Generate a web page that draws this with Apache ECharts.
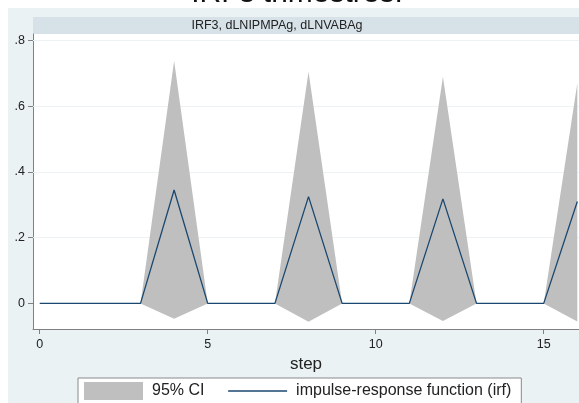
<!DOCTYPE html>
<html>
<head>
<meta charset="utf-8">
<script src="https://cdn.jsdelivr.net/npm/echarts@6/dist/echarts.min.js"></script>
<style>
html,body{margin:0;padding:0;background:#fff;}
#c{width:579px;height:403px;}
</style>
</head>
<body>
<div id="c"></div>
<script>
var steps = [0,1,2,3,4,5,6,7,8,9,10,11,12,13,14,15,16];
var irf   = [0,0,0,0,0.345,0,0,0,0.325,0,0,0,0.318,0,0,0,0.31];
var lower = [0,0,0,0,-0.047,0,0,0,-0.056,0,0,0,-0.054,0,0,0,-0.055];
var upper = [0,0,0,0,0.738,0,0,0,0.705,0,0,0,0.69,0,0,0,0.67];
var xTicks = [0,5,10,15];
var yTicks = [0,0.2,0.4,0.6,0.8];
var panelTitle = 'IRF3, dLNIPMPAg, dLNVABAg';
var topTitle = 'IRFs trimestres:';

var FONT = '"Liberation Sans", Arial, sans-serif';
var chart = echarts.init(document.getElementById('c'), null, {renderer:'canvas'});

var ciData = steps.map(function(s,i){ return [s, lower[i], upper[i]]; });
var irfData = steps.map(function(s,i){ return [s, irf[i]]; });

chart.setOption({
  animation:false,
  backgroundColor:'#ffffff',
  graphic:[
    {type:'rect', z:-100, shape:{x:8,y:8,width:571,height:395}, style:{fill:'#eaf2f3'}},
    {type:'rect', z:-99, shape:{x:33,y:17,width:546,height:17}, style:{fill:'#d6e2e8'}},
    {type:'text', z:10, x:297, y:-6, style:{text:topTitle, fill:'#111', font:'30px '+FONT, textAlign:'center', textVerticalAlign:'middle'}},
    {type:'text', z:10, x:277, y:26, style:{text:panelTitle, fill:'#222', font:'12.5px '+FONT, textAlign:'center', textVerticalAlign:'middle'}}
  ],
  grid:{left:33, top:34, right:0, bottom:74, show:true, backgroundColor:'#ffffff', borderWidth:0},
  legend:{
    left:78, top:378,
    backgroundColor:'#ffffff', borderColor:'#8a8a8a', borderWidth:1,
    padding:[4,10,4,6],
    itemWidth:59, itemHeight:18, itemGap:23,
    textStyle:{fontFamily:FONT, fontSize:16, color:'#222', padding:[0,0,0,4]},
    data:[
      {name:'95% CI', icon:'rect', itemStyle:{color:'#bfbfbf'}},
      {name:'impulse-response function (irf)', itemStyle:{opacity:0}, lineStyle:{color:'#1a476f', width:1.3}}
    ]
  },
  xAxis:{
    type:'value', min:-0.2, max:16.05,
    name:'step', nameLocation:'middle', nameGap:27,
    nameTextStyle:{fontFamily:FONT, fontSize:17, color:'#222'},
    axisLine:{show:true, onZero:false, lineStyle:{color:'#808080', width:1}},
    axisTick:{show:true, length:5, customValues:xTicks, lineStyle:{color:'#808080'}},
    axisLabel:{customValues:xTicks, margin:9, fontFamily:FONT, fontSize:12.5, color:'#222'},
    splitLine:{show:false}
  },
  yAxis:{
    type:'value', min:-0.078, max:0.82,
    axisLine:{show:true, onZero:false, lineStyle:{color:'#808080', width:1}},
    axisTick:{show:true, length:5, customValues:yTicks, lineStyle:{color:'#808080'}},
    axisLabel:{customValues:yTicks, margin:8, fontFamily:FONT, fontSize:12.5, color:'#222',
      formatter:function(v){ if (Math.abs(v)<1e-9) return '0'; return String(+v.toFixed(2)).replace(/^0/,''); }},
    splitLine:{show:false}
  },
  series:[
    {
      name:'95% CI', type:'custom', clip:true, z:2,
      data:ciData,
      renderItem:function(params, api){
        if (params.dataIndex !== 0) return null;
        var pts = [];
        for (var i=0;i<steps.length;i++) pts.push(api.coord([steps[i], upper[i]]));
        for (var j=steps.length-1;j>=0;j--) pts.push(api.coord([steps[j], lower[j]]));
        return {type:'polygon', shape:{points:pts}, style:{fill:'#bfbfbf', stroke:null}};
      },
      itemStyle:{color:'#bfbfbf'}
    },
    {
      name:'impulse-response function (irf)', type:'line', z:3,
      data:irfData, symbol:'none', showSymbol:false,
      lineStyle:{color:'#1a476f', width:1.3},
      itemStyle:{color:'#1a476f'},
      markLine:{
        silent:true, symbol:'none', label:{show:false}, z:1,
        lineStyle:{color:'#edf3f5', width:1, type:'solid'},
        data:yTicks.filter(function(v){return v>0;}).map(function(v){ return {yAxis:v}; })
      }
    }
  ]
});
</script>
</body>
</html>
